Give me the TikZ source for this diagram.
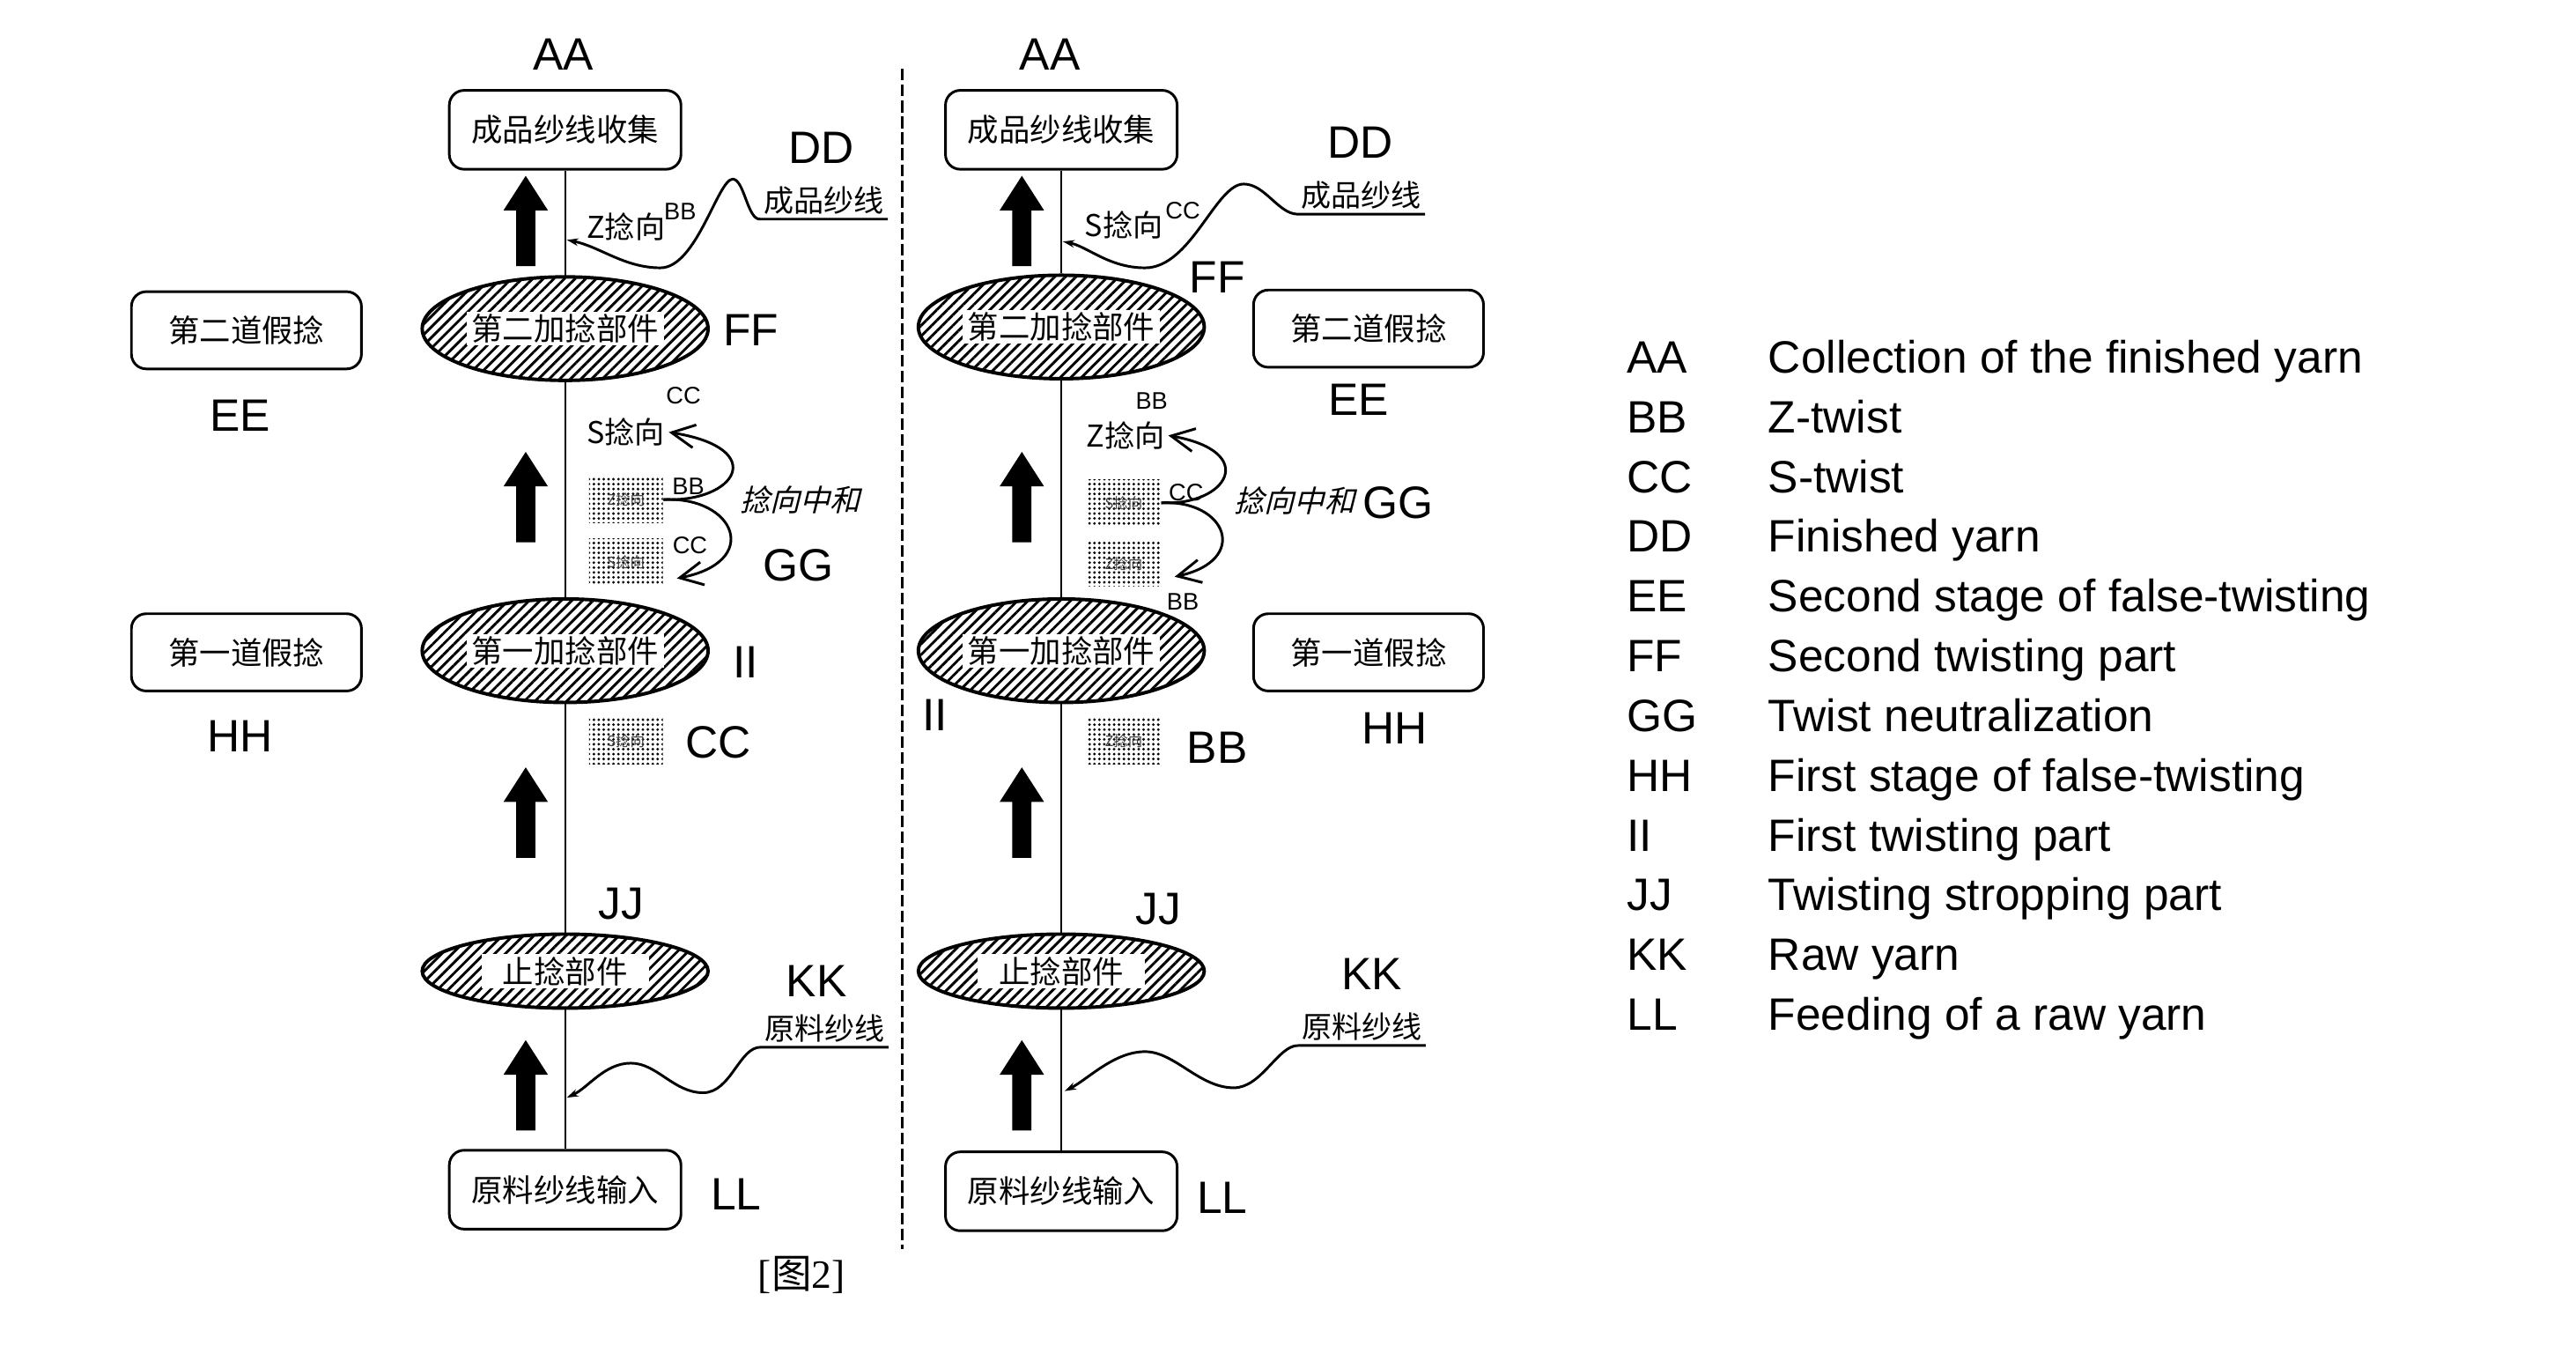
\documentclass[tikz,border=0pt]{standalone}
\usepackage{fontspec}
\setmainfont{Liberation Sans}
\newfontfamily\cjk{Noto Sans CJK SC}
\newfontfamily\cjksl{Noto Sans CJK SC}[FakeSlant=0.25]
\newfontfamily\serifm{Liberation Serif}
\usetikzlibrary{shapes.geometric,arrows.meta,patterns.meta}
\begin{document}
\begin{tikzpicture}[x=0.2mm,y=0.2mm,
  lab/.style={font=\fontsize{15.7}{18}\selectfont, inner sep=0pt},
  suplab/.style={font=\fontsize{8.3}{10}\selectfont, inner sep=0pt},
  cjkt/.style={font=\cjk\fontsize{10.4}{12}\selectfont, inner sep=0pt},
  slt/.style={font=\cjksl\fontsize{10.4}{12}\selectfont, inner sep=0pt},
  yarnlab/.style={font=\cjk\fontsize{10.4}{12}\selectfont, inner xsep=0pt, inner ysep=0.5mm, minimum width=15.4mm},
  procbox/.style={draw, line width=0.9pt, rounded corners=1.8mm, minimum width=28.2mm, minimum height=9.6mm, font=\cjk\fontsize{10.8}{12}\selectfont},
  fakebox/.style={draw, line width=0.9pt, rounded corners=1.8mm, minimum width=28mm, minimum height=9.4mm, font=\cjk\fontsize{10.8}{12}\selectfont},
  twister/.style={ellipse, draw, line width=1.2pt, minimum width=34.8mm, minimum height=12.6mm, pattern={Lines[angle=45,distance=2.6pt,line width=0.9pt]}},
  stopper/.style={twister, minimum height=9mm},
  wtext/.style={fill=white, inner xsep=0.6mm, inner ysep=0.3mm, font=\cjk\fontsize{10.8}{12}\selectfont},
  dotbox/.style={minimum width=9mm, minimum height=5.6mm, inner sep=0pt, pattern={Dots[distance=1.7pt,radius=0.5pt]}, font=\cjk\fontsize{5}{6}\selectfont, text=black!75},
  yarn/.style={line width=0.5pt},
  wave/.style={line width=0.9pt, -{Stealth[length=4pt,width=2.6pt]}},
  gg/.style={line width=0.9pt, -{Straight Barb[length=8pt,width=8pt]}},
  divider/.style={line width=0.9pt, dash pattern=on 4pt off 1.5pt},
  bigup/.pic={\fill (-5.8,0) -- (-5.8,34) -- (-13.5,34) -- (0,55) -- (13.5,34) -- (5.8,34) -- (5.8,0) -- cycle;}
]
\path[use as bounding box, fill=white] (0,0) rectangle (1568,-823.4);

% ---------------- divider ----------------
\coordinate (dtop) at (549,-42);
\coordinate (dbot) at (549,-760);
\draw[divider] (dtop) -- (dbot);

% ================= LEFT PANEL =================
\node[procbox] (topL) at (344,-79) {成品纱线收集};
\node[twister] (ffL) at (344,-200) {};
\node[wtext] at (ffL.center) {第二加捻部件};
\node[twister] (iiL) at (344,-396) {};
\node[wtext] at (iiL.center) {第一加捻部件};
\node[stopper] (jjL) at (344,-591) {};
\node[wtext, inner xsep=2.6mm] at (jjL.center) {止捻部件};
\node[procbox] (botL) at (344,-724) {原料纱线输入};
\draw[yarn] (topL) -- (ffL) -- (iiL) -- (jjL) -- (botL);

\node[fakebox] (eeboxL) at (150,-201) {第二道假捻};
\node[fakebox] (hhboxL) at (150,-397) {第一道假捻};

\pic at (320,-162) {bigup};
\pic at (320,-330) {bigup};
\pic at (320,-522) {bigup};
\pic at (320,-688) {bigup};

\node[lab] (aaL) at (343,-33) {AA};
\node[lab] (ddL) at (500,-90) {DD};
\node[lab] (ffLl) at (457,-201) {FF};
\node[lab] (eeL) at (146,-253) {EE};
\node[lab] (ggL) at (486,-344) {GG};
\node[lab] (iiLl) at (454,-403) {II};
\node[lab] (hhL) at (146,-448) {HH};
\node[lab] (cc3L) at (437,-452) {CC};
\node[lab] (jjLl) at (378,-550) {JJ};
\node[lab] (kkL) at (497,-597) {KK};
\node[lab] (llL) at (448,-727) {LL};

\node[cjkt] (ztopL) at (381,-138) {Z捻向};
\node[suplab] at (414,-129) {BB};
\node[yarnlab] (fyL) at (501.5,-122) {成品纱线};
\coordinate (fyLtip) at (345,-146);
\draw[wave] (fyL.south east) -- (fyL.south west) .. controls (455,-134) and (453,-109) .. (446,-109)
  .. controls (437,-109) and (424,-163) .. (402,-163) .. controls (380,-163) and (365,-150) .. (fyLtip);

\node[suplab] at (416,-241) {CC};
\node[cjkt] (stL) at (381,-263) {S捻向};
\node[dotbox] (b1L) at (381,-304) {Z捻向};
\node[dotbox] (b2L) at (381,-342) {S捻向};
\node[dotbox] (b3L) at (381,-451) {S捻向};
\node[suplab] at (419,-296) {BB};
\node[suplab] at (420,-332) {CC};
\node[slt] (nzL) at (487,-304) {捻向中和};
\coordinate (tlL) at (412,-352);
\draw[gg] (b1L.east) .. controls +(44,-2) and +(62,-10) .. ([xshift=0.4mm]stL.east);
\draw[gg] (b1L.east) .. controls +(44,2) and +(52,10) .. (tlL);

\node[yarnlab] (ryL) at (502,-626) {原料纱线};
\coordinate (ryLtip) at (345,-668);
\draw[wave] (ryL.south east) -- (ryL.south west) .. controls (450,-637) and (445,-665) .. (428,-665)
  .. controls (410,-665) and (400,-647) .. (384,-647) .. controls (368,-647) and (358,-662) .. (ryLtip);

% ================= RIGHT PANEL =================
\node[procbox] (topR) at (646,-79) {成品纱线收集};
\node[twister] (ffR) at (646,-199) {};
\node[wtext] at (ffR.center) {第二加捻部件};
\node[twister] (iiR) at (646,-396) {};
\node[wtext] at (iiR.center) {第一加捻部件};
\node[stopper] (jjR) at (646,-591) {};
\node[wtext, inner xsep=2.6mm] at (jjR.center) {止捻部件};
\node[procbox] (botR) at (646,-725) {原料纱线输入};
\draw[yarn] (topR) -- (ffR) -- (iiR) -- (jjR) -- (botR);

\node[fakebox] (eeboxR) at (833,-200) {第二道假捻};
\node[fakebox] (hhboxR) at (833,-397) {第一道假捻};

\pic at (622,-162) {bigup};
\pic at (622,-330) {bigup};
\pic at (622,-522) {bigup};
\pic at (622,-688) {bigup};

\node[lab] (aaR) at (639,-33) {AA};
\node[lab] (ddR) at (828,-87) {DD};
\node[lab] (ffRl) at (741,-169) {FF};
\node[lab] (eeR) at (827,-243) {EE};
\node[lab] (ggR) at (851,-306) {GG};
\node[lab] (iiRl) at (569,-435) {II};
\node[lab] (hhR) at (849,-443) {HH};
\node[lab] (bb3R) at (741,-455) {BB};
\node[lab] (jjRl) at (705,-553) {JJ};
\node[lab] (kkR) at (835,-593) {KK};
\node[lab] (llR) at (744,-729) {LL};

\node[cjkt] (stopR) at (684,-137) {S捻向};
\node[suplab] at (720,-128) {CC};
\node[yarnlab] (fyR) at (828.5,-119) {成品纱线};
\coordinate (fyRtip) at (647,-147);
\draw[wave] (fyR.south east) -- (fyR.south west) .. controls (778,-130) and (770,-112) .. (757,-112)
  .. controls (740,-112) and (725,-163) .. (697,-163) .. controls (675,-163) and (662,-150) .. (fyRtip);

\node[suplab] at (701,-244) {BB};
\node[cjkt] (ztR) at (685,-265) {Z捻向};
\node[dotbox] (b1R) at (684,-306) {S捻向};
\node[dotbox] (b2R) at (684,-343) {Z捻向};
\node[dotbox] (b3R) at (684,-451) {Z捻向};
\node[suplab] at (722,-300) {CC};
\node[suplab] at (720,-366) {BB};
\node[slt] (nzR) at (788,-305) {捻向中和};
\coordinate (tlR) at (715,-351);
\draw[gg] (b1R.east) .. controls +(40,-2) and +(56,-10) .. ([xshift=0.4mm]ztR.east);
\draw[gg] (b1R.east) .. controls +(40,2) and +(46,10) .. (tlR);

\node[yarnlab] (ryR) at (829,-625) {原料纱线};
\coordinate (ryRtip) at (648,-664);
\draw[wave] (ryR.south east) -- (ryR.south west) .. controls (778,-636) and (768,-662) .. (751,-662)
  .. controls (730,-662) and (715,-640) .. (697,-640) .. controls (678,-640) and (662,-657) .. (ryRtip);

% caption
\node[font=\serifm\fontsize{13.9}{16}\selectfont, inner sep=0pt] (cap) at (488,-776) {[{\cjk 图}2]};

% ================= LEGEND =================
\foreach \c/\t [count=\i from 0] in {AA/Collection of the finished yarn, BB/Z-twist, CC/S-twist, DD/Finished yarn, EE/Second stage of false-twisting, FF/Second twisting part, GG/Twist neutralization, HH/First stage of false-twisting, II/First twisting part, JJ/Twisting stropping part, KK/Raw yarn, LL/Feeding of a raw yarn}{
  \node[lab, anchor=base west] (lc\i) at (990,{-227-36.36*\i}) {\c};
  \node[lab, anchor=base west] (lt\i) at (1076,{-227-36.36*\i}) {\t};
}
\end{tikzpicture}
\end{document}
